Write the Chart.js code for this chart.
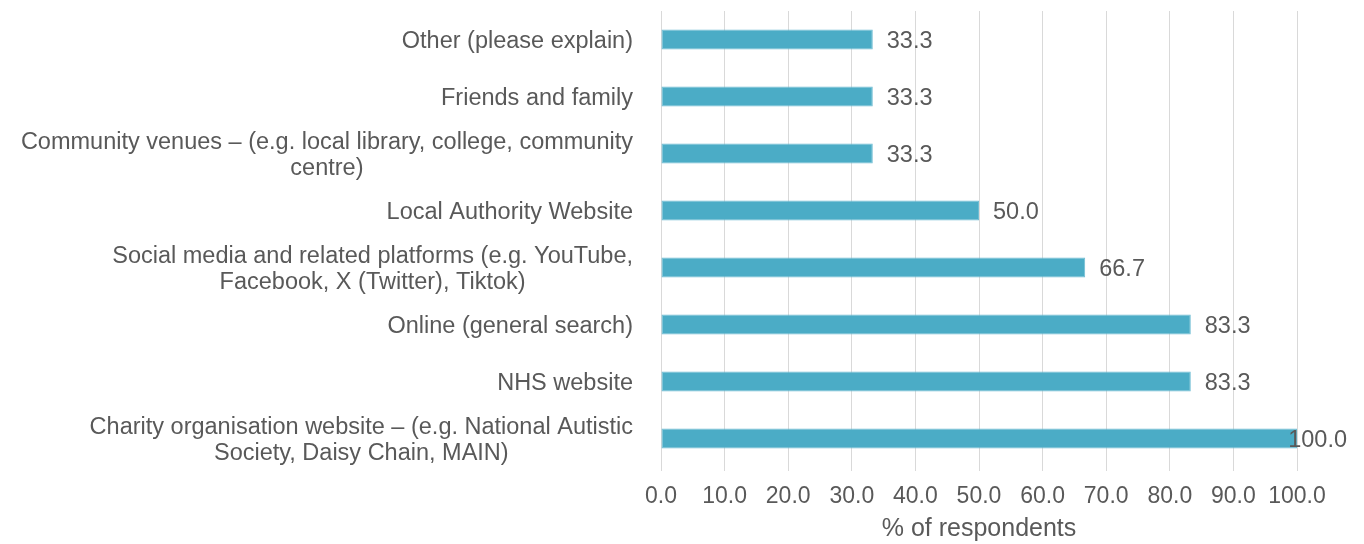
<!DOCTYPE html>
<html>
<head>
<meta charset="utf-8">
<title>Sources of information</title>
<script src="https://cdn.jsdelivr.net/npm/chart.js@4/dist/chart.umd.min.js"></script>
<style>
  body { margin: 0; background: #fff; }
  #wrap { width: 1364px; height: 544px; }
</style>
</head>
<body>
<div id="wrap"><canvas id="sourcesChart" width="1364" height="544"></canvas></div>
<script>
// Categories, top to bottom
const categories = [
    ['Other (please explain)'],
    ['Friends and family'],
    ['Community venues \u2013 (e.g. local library, college, community', 'centre)'],
    ['Local Authority Website'],
    ['Social media and related platforms (e.g. YouTube,', 'Facebook, X (Twitter), Tiktok)'],
    ['Online (general search)'],
    ['NHS website'],
    ['Charity organisation website \u2013 (e.g. National Autistic', 'Society, Daisy Chain, MAIN)']
];
const percentRespondents = [33.3, 33.3, 33.3, 50.0, 66.7, 83.3, 83.3, 100.0];
const xTicks = [0, 10, 20, 30, 40, 50, 60, 70, 80, 90, 100];
const xTitle = '% of respondents';

const textColor = '#595959';
const fontFamily = '"Liberation Sans", Arial, sans-serif';
const labelSize = 23.5;
const tickSize = 23;
const titleSize = 25;

// Category labels: each block right-aligned to the axis, lines centred within the block
const categoryLabels = {
    id: 'categoryLabels',
    afterDraw(chart) {
        const ctx = chart.ctx;
        const yScale = chart.scales.y;
        const right = yScale.right - 28;
        const lineH = 26;
        ctx.save();
        ctx.font = labelSize + 'px ' + fontFamily;
        ctx.fillStyle = textColor;
        ctx.textAlign = 'center';
        ctx.textBaseline = 'middle';
        categories.forEach(function (lines, i) {
            const y = yScale.getPixelForValue(i) + 2;
            const blockW = Math.max.apply(null, lines.map(function (l) { return ctx.measureText(l).width; }));
            const cx = right - blockW / 2;
            const y0 = y - (lines.length - 1) * lineH / 2;
            lines.forEach(function (l, k) {
                ctx.fillText(l, cx, y0 + k * lineH);
            });
        });
        ctx.restore();
    }
};

// Value labels at the end of each bar
const valueLabels = {
    id: 'valueLabels',
    afterDatasetsDraw(chart) {
        const ctx = chart.ctx;
        const meta = chart.getDatasetMeta(0);
        ctx.save();
        ctx.font = labelSize + 'px ' + fontFamily;
        ctx.fillStyle = textColor;
        ctx.textAlign = 'left';
        ctx.textBaseline = 'middle';
        meta.data.forEach(function (bar, i) {
            const txt = percentRespondents[i].toFixed(1);
            const w = ctx.measureText(txt).width;
            const x = Math.min(bar.x + 14, chart.width - 17 - w);
            ctx.fillText(txt, x, bar.y + 2);
        });
        ctx.restore();
    }
};

new Chart(document.getElementById('sourcesChart'), {
    type: 'bar',
    data: {
        labels: categories,
        datasets: [{
            data: percentRespondents,
            backgroundColor: '#4BACC6',
            borderColor: '#6FBDD3',
            borderWidth: 1,
            borderSkipped: false,
            barPercentage: 0.35,
            categoryPercentage: 1.0
        }]
    },
    options: {
        indexAxis: 'y',
        responsive: false,
        animation: false,
        layout: { padding: { top: 11, right: 67, left: 0, bottom: 0 } },
        plugins: {
            legend: { display: false },
            tooltip: { enabled: false }
        },
        scales: {
            x: {
                min: 0,
                max: 100,
                afterBuildTicks(scale) {
                    scale.ticks = xTicks.map(function (v) { return { value: v }; });
                },
                afterFit(scale) { scale.height = 77; },
                grid: { color: '#D9D9D9', lineWidth: 1, tickLength: 4 },
                border: { display: false },
                ticks: {
                    color: textColor,
                    padding: 12,
                    maxRotation: 0,
                    font: { family: fontFamily, size: tickSize },
                    callback: function (v) { return Number(v).toFixed(1); }
                },
                title: {
                    display: true,
                    text: xTitle,
                    color: textColor,
                    padding: { top: 0, bottom: 1 },
                    font: { family: fontFamily, size: titleSize, lineHeight: 1.1 }
                }
            },
            y: {
                afterFit(scale) { scale.width = 661; },
                grid: { display: false },
                border: { display: false },
                ticks: { display: false }
            }
        }
    },
    plugins: [categoryLabels, valueLabels]
});
</script>
</body>
</html>
